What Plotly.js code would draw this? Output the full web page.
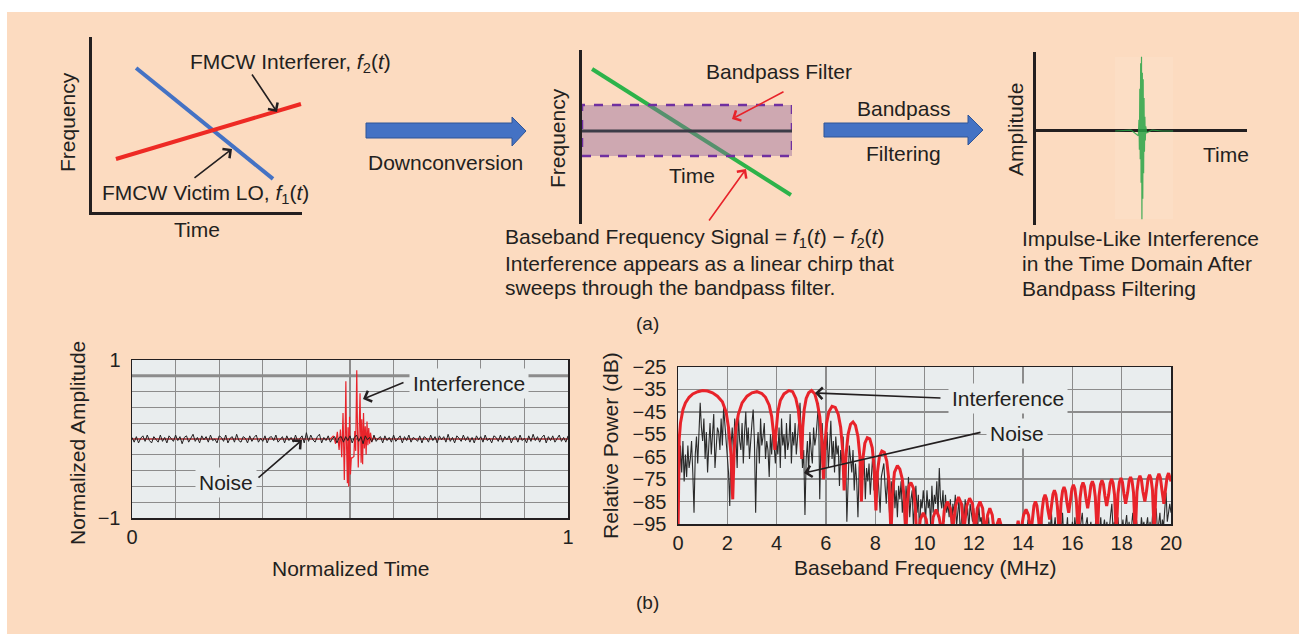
<!DOCTYPE html>
<html>
<head>
<meta charset="utf-8">
<script src="https://cdn.plot.ly/plotly-3.0.1.min.js"></script>
<style>
  html, body { margin: 0; padding: 0; background: #ffffff; }
  #fig { width: 1299px; height: 634px; }
</style>
</head>
<body>
<div id="fig"></div>
<script>
// ---------- (a) sketches ----------
const loTime = [0.21, 0.862];
const loFreq = [0.823, 0.189];
const interfererTime = [0.114, 0.995];
const interfererFreq = [0.303, 0.617];
const chirpTime = [0.048, 0.995];
const chirpFreq = [0.891, 0.167];
const filterBand = [0.391, 0.684];
const filterCenter = 0.534;
const impulseTime = [0.375, 0.45, 0.485, 0.488, 0.490, 0.492, 0.494, 0.496, 0.498, 0.500, 0.502, 0.504,
  0.506, 0.508, 0.510, 0.512, 0.514, 0.516, 0.518, 0.520, 0.525, 0.55, 0.60, 0.65];
const impulseAmp = [0.0, 0.01, -0.05, 0.12, -0.2, 0.45, -0.3, 0.72, -0.55, 0.79, -0.94, 0.62,
  -0.72, 0.55, -0.45, 0.35, -0.22, 0.15, -0.1, 0.05, -0.02, 0.01, 0.0, 0.0];

// ---------- (b) time domain ----------
const timeTickVals = [0, 0.1, 0.2, 0.3, 0.4, 0.5, 0.6, 0.7, 0.8, 0.9, 1];
const timeTickText = ['0', '', '', '', '', '', '', '', '', '', '1'];
const ampTickVals = [-1, -0.8, -0.6, -0.4, -0.2, 0, 0.2, 0.4, 0.6, 0.8, 1];
const ampTickText = ['\u22121', '', '', '', '', '', '', '', '', '', '1'];
// receiver noise, sampled every 0.005 of normalized time
const noiseAmp = [
  0.02,-0.04,0.03,-0.05,0.01,0.04,-0.03,0.05,-0.02,-0.05,0.03,0.00,-0.04,0.05,-0.03,0.02,-0.05,0.04,0.01,-0.03,
  0.05,-0.02,0.03,-0.06,0.02,0.04,-0.04,0.01,0.06,-0.03,0.02,-0.05,0.04,-0.01,0.03,-0.04,0.05,-0.02,0.00,-0.05,
  0.04,0.02,-0.03,0.05,-0.05,0.01,0.03,-0.04,0.06,-0.02,-0.04,0.03,0.01,-0.05,0.04,-0.03,0.02,0.05,-0.04,0.01,
  -0.03,0.04,-0.05,0.02,0.03,-0.02,0.05,-0.04,0.00,0.03,-0.05,0.04,-0.02,0.02,-0.04,0.05,-0.03,0.01,0.04,-0.05,
  0.08,-0.03,0.05,-0.01,-0.04,0.03,0.06,-0.05,0.02,-0.02,0.04,-0.04,0.01,0.03,-0.05,0.02,0.03,-0.04,0.03,-0.02,
  0.04,-0.05,0.02,0.05,-0.03,0.03,-0.06,0.04,-0.01,0.02,-0.04,0.05,-0.03,0.01,0.03,-0.05,0.04,-0.02,0.02,-0.04,
  0.05,-0.03,0.01,0.04,-0.05,0.03,-0.02,0.05,-0.04,0.02,0.00,-0.03,0.04,-0.05,0.03,0.01,-0.04,0.05,-0.02,0.03,
  -0.05,0.04,-0.01,0.03,-0.04,0.06,-0.03,0.02,-0.05,0.04,0.01,-0.03,0.05,-0.02,0.03,-0.04,0.02,-0.05,0.04,-0.01,
  0.03,-0.04,0.05,-0.02,0.01,-0.05,0.04,0.02,-0.03,0.05,-0.04,0.03,-0.01,0.04,-0.05,0.02,0.03,-0.04,0.05,-0.02,
  0.01,-0.05,0.04,-0.03,0.06,-0.02,0.03,-0.04,0.02,0.05,-0.05,0.03,-0.02,0.04,-0.04,0.01,0.05,-0.03,0.02,-0.04,
  0.04];
const interfTime = [0, 0.455, 0.462, 0.467, 0.471, 0.475, 0.478, 0.481, 0.484, 0.487,
  0.489, 0.4905, 0.492, 0.494, 0.4955, 0.497, 0.499, 0.501, 0.503, 0.505,
  0.509, 0.511, 0.513, 0.5155, 0.517, 0.519, 0.521, 0.523, 0.5255, 0.527,
  0.529, 0.531, 0.533, 0.535, 0.537, 0.539, 0.541, 0.543, 0.545, 0.547,
  0.55, 0.555, 0.56, 1];
const interfAmp = [0, 0, 0.04, -0.06, 0.09, -0.14, 0.12, -0.23, 0.33, -0.52,
  0.10, 0.73, -0.05, -0.56, 0.15, -0.60, 0.28, -0.45, -0.24, -0.24,
  -0.22, 0.10, -0.15, 0.87, 0.20, -0.36, 0.10, 0.58, -0.30, 0.25,
  -0.32, 0.33, -0.12, 0.16, -0.20, 0.22, -0.08, 0.14, -0.06, 0.08,
  -0.03, 0.02, 0, 0];

// ---------- (b) spectrum ----------
const freqTickVals = [0, 2, 4, 6, 8, 10, 12, 14, 16, 18, 20];
const powerTickVals = [-95, -85, -75, -65, -55, -45, -35, -25];
const powerTickText = ['\u221295', '\u221285', '\u221275', '\u221265', '\u221255', '\u221245', '\u221235', '\u221225'];
// noise spectrum, one value every 0.05 MHz
const noiseDb = [
  -62,-78,-60,-72,-58,-76,-64,-74,-60,-70,-66,-58,-72,-90,-64,-56,-68,-50,-41,-52,
  -58,-48,-66,-54,-72,-60,-50,-64,-56,-46,-70,-58,-52,-54,-62,-48,-60,-43,-50,-58,
  -66,-72,-87,-60,-52,-64,-48,-56,-70,-46,-58,-62,-50,-68,-54,-45,-60,-52,-66,-56,
  -50,-44,-58,-90,-62,-54,-68,-48,-60,-56,-50,-66,-58,-62,-74,-55,-64,-52,-60,-68,
  -58,-64,-52,-70,-48,-60,-55,-66,-50,-62,-58,-46,-68,-54,-60,-50,-64,-56,-48,-41,
  -56,-70,-62,-91,-66,-58,-72,-54,-62,-68,-52,-60,-56,-48,-41,-84,-58,-50,-64,-56,
  -62,-54,-70,-60,-49,-66,-58,-72,-56,-64,-60,-78,-62,-68,-56,-74,-64,-94,-70,-60,
  -66,-72,-62,-80,-68,-76,-92,-70,-64,-78,-72,-66,-84,-70,-76,-68,-82,-74,-64,-80,
  -76,-84,-72,-80,-90,-74,-70,-68,-78,-86,-74,-82,-94,-76,-84,-72,-88,-80,-92,-78,
  -84,-76,-90,-82,-98,-78,-86,-74,-92,-84,-80,-96,-86,-78,-90,-82,-100,-84,-88,-80,
  -86,-92,-80,-88,-84,-96,-78,-90,-82,-86,-76,-92,-70,-84,-88,-80,-94,-82,-90,-86,
  -92,-84,-98,-86,-90,-82,-96,-88,-84,-100,-90,-86,-94,-84,-92,-88,-98,-86,-90,-94,
  -88,-96,-90,-100,-86,-94,-92,-98,-90,-102,-94,-96,-92,-100,-96,-104,-94,-98,-100,-96,
  -100,-98,-104,-96,-102,-100,-106,-98,-102,-104,-100,-97,-104,-102,-98,-105,-100,-103,-99,-104,
  -100,-96,-104,-98,-93,-102,-100,-97,-104,-95,-100,-102,-96,-104,-98,-92,-101,-99,-104,-96,
  -100,-94,-98,-90,-102,-96,-92,-100,-97,-104,-93,-98,-90,-101,-96,-99,-92,-104,-95,-100,
  -94,-100,-92,-98,-96,-102,-97,-93,-90,-99,-104,-95,-92,-100,-97,-94,-102,-96,-99,-93,
  -100,-95,-98,-92,-101,-96,-93,-99,-94,-100,-97,-91,-86,-98,-94,-102,-96,-92,-100,-95,
  -98,-93,-100,-96,-91,-99,-94,-102,-95,-90,-97,-100,-93,-98,-95,-101,-92,-97,-94,-99,
  -96,-92,-99,-94,-100,-91,-97,-93,-88,-98,-95,-90,-99,-93,-96,-88,-81,-94,-90,-86,
  -90];
const interfFreq = [
  0, 0.02, 0.05, 0.1, 0.2, 0.3, 0.45, 0.6, 0.8, 1.0, 1.2, 1.4, 1.6, 1.8, 1.95, 2.05, 2.15, 2.22,
  2.28, 2.35, 2.45, 2.6, 2.8, 3.0, 3.2, 3.4, 3.55, 3.7, 3.8, 3.88, 3.93,
  3.97, 4.05, 4.15, 4.3, 4.5, 4.65, 4.78, 4.88, 4.95, 5.02,
  5.06, 5.12, 5.2, 5.3, 5.42, 5.55, 5.65, 5.75, 5.83, 5.9,
  5.96, 6.03, 6.12, 6.25, 6.38, 6.5, 6.6, 6.68, 6.74,
  6.82, 6.9, 7.0, 7.1, 7.2, 7.3, 7.38, 7.44,
  7.5, 7.58, 7.68, 7.78, 7.88, 7.96, 8.03,
  8.09, 8.17, 8.27, 8.37, 8.47, 8.56, 8.64,
  8.7, 8.78, 8.9, 9.0, 9.1, 9.18, 9.24,
  9.3, 9.37, 9.45, 9.55, 9.63, 9.68,
  9.75, 9.83, 9.95, 10.07, 10.15,
  10.27, 10.35, 10.47, 10.59, 10.67,
  10.72, 10.8, 10.93, 11.05, 11.15,
  11.26, 11.38, 11.5, 11.6,
  11.71, 11.83, 11.95, 12.05,
  12.14, 12.25, 12.36, 12.45,
  12.56, 12.65, 12.75, 12.84,
  12.95, 13.03, 13.12, 13.2,
  13.7, 13.8, 13.88,
  14.02, 14.12, 14.22, 14.31,
  14.38, 14.44, 14.5, 14.56, 14.62, 14.69,
  14.77, 14.83, 14.89, 14.95, 15.01, 15.08,
  15.15, 15.21, 15.27, 15.33, 15.39, 15.47,
  15.54, 15.6, 15.66, 15.72, 15.78, 15.85,
  15.92, 15.98, 16.04, 16.1, 16.16, 16.24,
  16.31, 16.37, 16.43, 16.49, 16.55, 16.62,
  16.69, 16.75, 16.81, 16.87, 16.93, 17.01,
  17.08, 17.14, 17.2, 17.26, 17.32, 17.39,
  17.47, 17.53, 17.59, 17.65, 17.71, 17.78,
  17.85, 17.91, 17.97, 18.03, 18.09, 18.16,
  18.24, 18.3, 18.36, 18.42, 18.48, 18.55,
  18.62, 18.68, 18.74, 18.8, 18.86, 18.94,
  19.01, 19.07, 19.13, 19.19, 19.25, 19.32,
  19.39, 19.45, 19.51, 19.57, 19.63, 19.71,
  19.78, 19.84, 19.9, 19.96, 20];
const interfDb = [
  -100, -70, -57, -50, -44, -41, -38.5, -37, -36, -35.5, -35.7, -36.5, -38, -40.5, -45, -52, -64, -84,
  -62, -52, -46, -41, -38, -36.5, -36, -36.8, -38.5, -42, -47, -55, -62,
  -55, -45, -40, -37, -35.5, -36, -39, -44, -52, -66,
  -52, -44, -39, -36.5, -35.5, -37, -41, -47, -57, -75,
  -60, -50, -45, -42.5, -43, -46, -52, -62, -80,
  -64, -55, -50.5, -49.5, -51, -56, -65, -85,
  -66, -59, -56.5, -57, -61, -70, -89,
  -72, -65, -62.5, -63, -67, -76, -100,
  -82, -72, -69, -70.5, -75, -84, -100,
  -86, -78, -76.5, -79, -88, -100,
  -100, -93, -90, -93, -100,
  -100, -92, -88.5, -92, -100,
  -100, -89, -85, -88, -97,
  -87, -83, -86, -98,
  -87, -83.5, -86, -100,
  -88, -85, -88, -100,
  -91, -88, -91, -100,
  -95, -92.5, -96, -100,
  -100, -93.5, -100,
  -91, -88.5, -91, -100,
  -92, -86.8, -85, -86.8, -92, -100,
  -89, -83.8, -82, -83.8, -89, -93,
  -87, -81.8, -80, -81.8, -87, -100,
  -85.5, -80.3, -78.5, -80.3, -85.5, -90,
  -84.5, -79.3, -77.5, -79.3, -84.5, -100,
  -83.5, -78.3, -76.5, -78.3, -83.5, -88,
  -83, -77.8, -76, -77.8, -83, -100,
  -82.5, -77.3, -75.5, -77.3, -82.5, -87,
  -82, -76.8, -75, -76.8, -82, -100,
  -81.5, -76.3, -74.5, -76.3, -81.5, -86,
  -81, -75.8, -74, -75.8, -81, -100,
  -80.5, -75.3, -73.5, -75.3, -80.5, -85,
  -80, -74.8, -73, -74.8, -80, -100,
  -79.6, -74.4, -72.6, -74.4, -79.6, -86,
  -79.3, -74.1, -72.3, -74.1, -76];

// ---------- page geometry helpers (pixels -> paper fractions) ----------
const W = 1299, H = 634;
const X = p => p / W;
const Y = p => 1 - p / H;
const FONT = 'Liberation Sans, Arial, Helvetica, sans-serif';
const INK = '#231F20';
const PEACH = '#FCDBC0';
const PANEL = '#E9EDEE';
const GRID = '#8C8C8C';

function blockArrow(pts) {
  return 'M' + pts.map(p => X(p[0]).toFixed(5) + ',' + Y(p[1]).toFixed(5)).join(' L') + ' Z';
}

const traces = [
  // sketch 1: victim LO and interferer ramps
  { x: loTime, y: loFreq, xaxis: 'x3', yaxis: 'y3', mode: 'lines',
    line: { color: '#4472C4', width: 4 } },
  { x: interfererTime, y: interfererFreq, xaxis: 'x3', yaxis: 'y3', mode: 'lines',
    line: { color: '#EE2A24', width: 4 } },
  // sketch 2: baseband chirp
  { x: chirpTime, y: chirpFreq, xaxis: 'x4', yaxis: 'y4', mode: 'lines',
    line: { color: '#2DB34A', width: 4 } },
  // sketch 3: impulse after filtering
  { x: impulseTime, y: impulseAmp, xaxis: 'x5', yaxis: 'y5', mode: 'lines',
    line: { color: 'rgba(40,165,70,0.85)', width: 1.2 } },
  // time domain: interference first, noise drawn over it
  { x: interfTime, y: interfAmp, xaxis: 'x', yaxis: 'y', mode: 'lines',
    line: { color: '#E8232A', width: 1.2 } },
  { x0: 0, dx: 0.005, y: noiseAmp, xaxis: 'x', yaxis: 'y', mode: 'lines',
    line: { color: INK, width: 1 } },
  // spectrum
  { x0: 0, dx: 0.05, y: noiseDb, xaxis: 'x2', yaxis: 'y2', mode: 'lines',
    line: { color: '#2A2A2A', width: 1.1 } },
  { x: interfFreq, y: interfDb, xaxis: 'x2', yaxis: 'y2', mode: 'lines',
    line: { color: '#E8232A', width: 3 } }
];

const plotAxis = {
  showgrid: true, gridcolor: GRID, gridwidth: 1.3, zeroline: false,
  showline: true, mirror: true, linecolor: INK, linewidth: 1.5,
  ticks: '', tickfont: { size: 20, color: INK, family: FONT }, fixedrange: true
};
const sketchAxis = {
  showgrid: false, zeroline: false, showticklabels: false, ticks: '',
  showline: false, fixedrange: true
};

const layout = {
  width: W, height: H,
  margin: { l: 0, r: 0, t: 0, b: 0 },
  paper_bgcolor: '#ffffff',
  plot_bgcolor: 'rgba(0,0,0,0)',
  showlegend: false,
  font: { family: FONT, size: 21, color: INK },
  xaxis: Object.assign({}, plotAxis, { domain: [X(132), X(568)], range: [0, 1], anchor: 'y',
    tickmode: 'array', tickvals: timeTickVals, ticktext: timeTickText }),
  yaxis: Object.assign({}, plotAxis, { domain: [Y(518), Y(360)], range: [-1, 1], anchor: 'x',
    tickmode: 'array', tickvals: ampTickVals, ticktext: ampTickText, ticklabelstandoff: 6 }),
  xaxis2: Object.assign({}, plotAxis, { domain: [X(678), X(1171)], range: [0, 20], anchor: 'y2',
    tickmode: 'array', tickvals: freqTickVals }),
  yaxis2: Object.assign({}, plotAxis, { domain: [Y(524), Y(367)], range: [-95, -25], anchor: 'x2',
    tickmode: 'array', tickvals: powerTickVals, ticktext: powerTickText, ticklabelstandoff: 6 }),
  xaxis3: Object.assign({}, sketchAxis, { domain: [X(92), X(302)], range: [0, 1], anchor: 'y3',
    showline: true, linecolor: INK, linewidth: 3 }),
  yaxis3: Object.assign({}, sketchAxis, { domain: [Y(212), Y(37)], range: [0, 1], anchor: 'x3',
    showline: true, linecolor: INK, linewidth: 3 }),
  xaxis4: Object.assign({}, sketchAxis, { domain: [X(582), X(792)], range: [0, 1], anchor: 'y4' }),
  yaxis4: Object.assign({}, sketchAxis, { domain: [Y(224), Y(50)], range: [0, 1], anchor: 'x4',
    showline: true, linecolor: INK, linewidth: 3 }),
  xaxis5: Object.assign({}, sketchAxis, { domain: [X(1036), X(1247)], range: [0, 1], anchor: 'y5' }),
  yaxis5: Object.assign({}, sketchAxis, { domain: [Y(225), Y(52)], range: [-1, 0.84], anchor: 'x5',
    showline: true, linecolor: INK, linewidth: 3,
    zeroline: true, zerolinecolor: INK, zerolinewidth: 3 }),
  shapes: [
    // page background
    { type: 'rect', xref: 'paper', yref: 'paper', x0: X(7), x1: 1, y0: 0, y1: Y(12),
      fillcolor: PEACH, line: { width: 0 }, layer: 'below' },
    // faint backdrop behind the impulse trace
    { type: 'rect', xref: 'paper', yref: 'paper', x0: X(1115), x1: X(1173), y0: Y(219), y1: Y(57),
      fillcolor: 'rgba(255,236,220,0.18)', line: { width: 0 }, layer: 'below' },
    // panel backgrounds
    { type: 'rect', xref: 'x domain', yref: 'y domain', x0: 0, x1: 1, y0: 0, y1: 1,
      fillcolor: PANEL, line: { width: 0 }, layer: 'below' },
    { type: 'rect', xref: 'x2 domain', yref: 'y2 domain', x0: 0, x1: 1, y0: 0, y1: 1,
      fillcolor: PANEL, line: { width: 0 }, layer: 'below' },
    // heavier reference line in the time plot
    { type: 'line', xref: 'x domain', yref: 'y', x0: 0, x1: 1, y0: 0.8, y1: 0.8,
      line: { color: GRID, width: 3 }, layer: 'below' },
    // bandpass filter window
    { type: 'rect', xref: 'x4', yref: 'y4', x0: 0, x1: 1, y0: filterBand[0], y1: filterBand[1],
      fillcolor: 'rgba(144,98,158,0.42)', line: { color: '#7030A0', width: 2.5, dash: 'dash' } },
    { type: 'line', xref: 'x4', yref: 'y4', x0: 0, x1: 1.02, y0: filterCenter, y1: filterCenter,
      line: { color: '#3C3C48', width: 3 } },
    // process arrows
    { type: 'path', xref: 'paper', yref: 'paper',
      path: blockArrow([[366, 123], [512, 123], [512, 117], [526, 131], [512, 146], [512, 138], [366, 138]]),
      fillcolor: '#4472C4', line: { color: '#2F5597', width: 1 } },
    { type: 'path', xref: 'paper', yref: 'paper',
      path: blockArrow([[824, 123], [968, 123], [968, 115], [983, 130], [968, 145], [968, 137], [824, 137]]),
      fillcolor: '#4472C4', line: { color: '#2F5597', width: 1 } }
  ],
  annotations: []
};

function label(text, px, py, opts) {
  layout.annotations.push(Object.assign({
    text: text, xref: 'paper', yref: 'paper', x: X(px), y: Y(py),
    xanchor: 'center', yanchor: 'middle', showarrow: false,
    font: { family: FONT, size: 21, color: INK }
  }, opts || {}));
}
function pointer(tipX, tipY, tailX, tailY, color) {
  layout.annotations.push({
    text: '', xref: 'paper', yref: 'paper', x: X(tipX), y: Y(tipY),
    ax: tailX - tipX, ay: tailY - tipY, showarrow: true,
    arrowhead: 4, arrowsize: 1.4, arrowwidth: 1.6, arrowcolor: color || INK, standoff: 0
  });
}

// (a) texts
label('FMCW Interferer, <i>f</i><sub>2</sub>(<i>t</i>)', 188, 63, { xanchor: 'left' });
label('FMCW Victim LO, <i>f</i><sub>1</sub>(<i>t</i>)', 100, 194, { xanchor: 'left' });
label('Frequency', 67, 122, { textangle: -90 });
label('Time', 197, 230);
label('Downconversion', 445, 163);
label('Frequency', 557, 138, { textangle: -90 });
label('Time', 692, 175);
label('Bandpass Filter', 704, 72, { xanchor: 'left' });
label('Baseband Frequency Signal = <i>f</i><sub>1</sub>(<i>t</i>) \u2212 <i>f</i><sub>2</sub>(<i>t</i>)', 503, 238, { xanchor: 'left' });
label('Interference appears as a linear chirp that', 503, 263, { xanchor: 'left' });
label('sweeps through the bandpass filter.', 503, 287, { xanchor: 'left' });
label('Bandpass', 903, 108);
label('Filtering', 903, 153);
label('Amplitude', 1015, 130, { textangle: -90 });
label('Time', 1226, 154);
label('Impulse-Like Interference', 1020, 238, { xanchor: 'left' });
label('in the Time Domain After', 1020, 263, { xanchor: 'left' });
label('Bandpass Filtering', 1020, 288, { xanchor: 'left' });
label('(a)', 647, 323, { font: { family: FONT, size: 19, color: INK } });
pointer(277, 112, 251, 73);
pointer(232, 149, 193, 179);
pointer(732, 119, 785, 91, '#E8232A');
pointer(746, 169, 708, 222, '#E8232A');

// (b) texts
label('Normalized Amplitude', 77, 443, { textangle: -90 });
label('Normalized Time', 351, 568);
label('Relative Power (dB)', 610, 446, { textangle: -90 });
label('Baseband Frequency (MHz)', 925, 567);
label('(b)', 647, 602, { font: { family: FONT, size: 19, color: INK } });
pointer(363, 399, 405, 382);
pointer(302, 440, 257, 479);
pointer(815, 393, 942, 398);
pointer(804, 473, 982, 432);
label('Interference', 469, 383, { bgcolor: PANEL, borderpad: 3 });
label('Noise', 226, 482, { bgcolor: PANEL, borderpad: 3 });
label('Interference', 1008, 398, { bgcolor: PANEL, borderpad: 3 });
label('Noise', 1017, 433, { bgcolor: PANEL, borderpad: 3 });

Plotly.newPlot('fig', traces, layout, { displayModeBar: false, staticPlot: true });
</script>
</body>
</html>
